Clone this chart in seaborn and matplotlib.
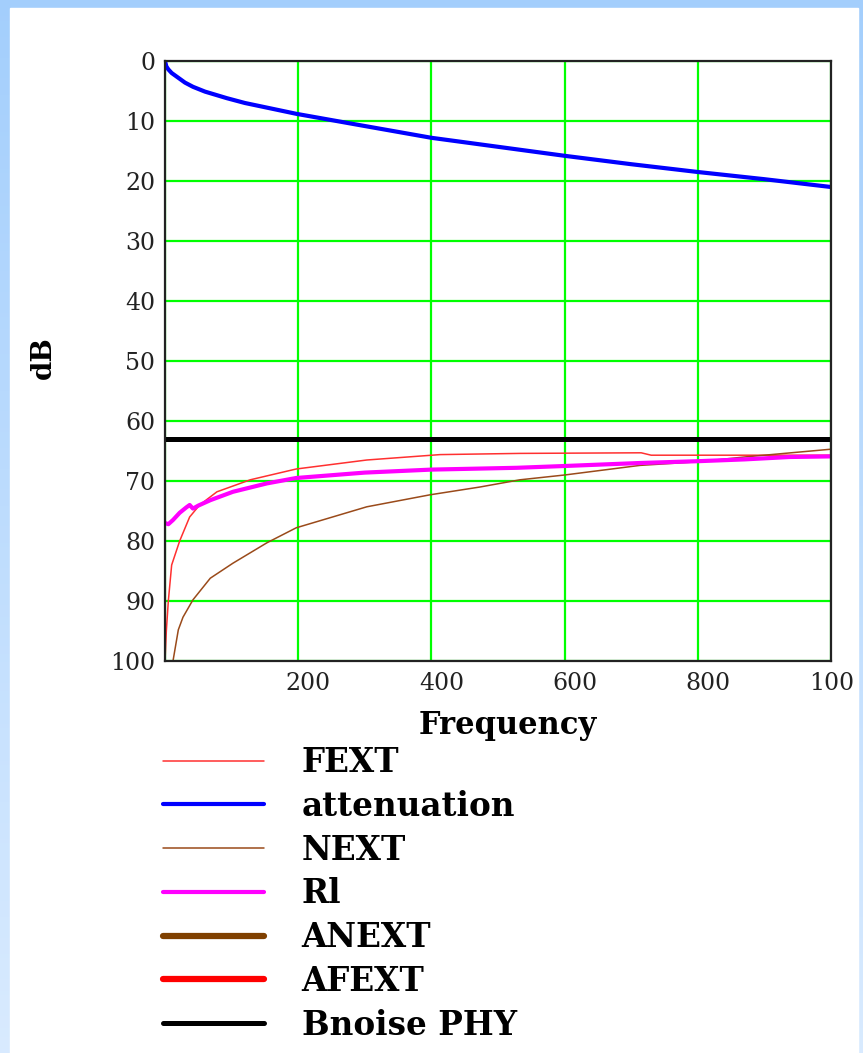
import numpy as np
import pandas as pd
import matplotlib
matplotlib.use("Agg")
import matplotlib.pyplot as plt
import seaborn as sns
from matplotlib.colors import LinearSegmentedColormap
from matplotlib.patches import Rectangle
from matplotlib.transforms import ScaledTranslation

# ---------------- data ----------------
att_f = [0, 2, 5, 10, 20, 30, 42, 60, 93, 120, 150, 197, 293, 400, 500, 600, 700, 800, 900, 1000]
att_db = [0.0, 0.9, 1.4, 2.0, 2.8, 3.6, 4.3, 5.1, 6.2, 7.0, 7.7, 8.8, 10.7, 12.8, 14.3, 15.8, 17.2, 18.5, 19.7, 21.0]

fext_f = [0, 2, 5, 10, 22, 37, 52, 78, 128, 197, 303, 413, 533, 715, 730, 1000]
fext_db = [100, 95, 90, 84, 80, 76, 74, 71.8, 69.8, 68.0, 66.5, 65.6, 65.4, 65.3, 65.7, 65.7]

next_f = [12, 20, 27, 42, 68, 102, 153, 197, 303, 398, 473, 533, 600, 713, 800, 870, 950, 1000]
next_db = [100, 94.8, 92.7, 89.8, 86.2, 83.7, 80.3, 77.8, 74.3, 72.3, 71.0, 69.8, 69.0, 67.4, 66.8, 66.0, 65.2, 64.7]

rl_f = [0, 5, 12, 22, 32, 37, 42, 50, 68, 102, 153, 197, 300, 400, 528, 600, 713, 800, 870, 938, 1000]
rl_db = [77.0, 77.2, 76.5, 75.3, 74.4, 74.0, 74.6, 74.1, 73.2, 71.8, 70.4, 69.5, 68.6, 68.1, 67.8, 67.5, 67.0, 66.7, 66.4, 66.0, 65.9]

bnoise_f = [0, 1000]
bnoise_db = [63, 63]

x_ticks = [0, 200, 400, 600, 800, 1000]
x_ticklabels = ["", "200", "400", "600", "800", "100"]
y_ticks = [0, 10, 20, 30, 40, 50, 60, 70, 80, 90, 100]
y_ticklabels = ["0", "10", "20", "30", "40", "50", "60", "70", "80", "90", "100"]
legend_order = ["FEXT", "attenuation", "NEXT", "Rl", "ANEXT", "AFEXT", "Bnoise PHY"]

# ---------------- styling ----------------
sns.set_theme(style="white")
plt.rcParams["font.family"] = ["DejaVu Serif"]

W, H = 863, 1053
fig = plt.figure(figsize=(W / 100, H / 100), dpi=100)

cmap = LinearSegmentedColormap.from_list("bgblue", [(0.64, 0.81, 0.99), (0.85, 0.92, 1.0)])
grad = np.linspace(0, 1, 256).reshape(-1, 1)

bg = fig.add_axes([0, 0, 1, 1], zorder=-10)
bg.imshow(grad, aspect="auto", cmap=cmap, extent=[0, 1, 0, 1], origin="upper")
bg.add_patch(Rectangle((10 / W, 0), (858 - 10) / W, (H - 8) / H, color="white",
                       transform=bg.transAxes))
bg.set_xlim(0, 1)
bg.set_ylim(0, 1)
bg.axis("off")

ax = fig.add_axes([165 / W, 1 - 661 / H, 666 / W, 600 / H])
ax.set_facecolor("white")

sns.lineplot(x=fext_f, y=fext_db, ax=ax, color="#ff3030", linewidth=1.1, label="FEXT")
sns.lineplot(x=att_f, y=att_db, ax=ax, color="#0000ff", linewidth=3.0, label="attenuation")
sns.lineplot(x=next_f, y=next_db, ax=ax, color="#9a4a1a", linewidth=1.1, label="NEXT")
sns.lineplot(x=rl_f, y=rl_db, ax=ax, color="#ff00ff", linewidth=3.0, label="Rl",
             solid_capstyle="round")
ax.plot([], [], color="#7f4000", linewidth=4.5, solid_capstyle="round", label="ANEXT")
ax.plot([], [], color="#ff0000", linewidth=4.5, solid_capstyle="round", label="AFEXT")
sns.lineplot(x=bnoise_f, y=bnoise_db, ax=ax, color="black", linewidth=3.6, label="Bnoise PHY")

ax.set_xlim(0, 1000)
ax.set_ylim(100, 0)
ax.set_xticks(x_ticks)
ax.set_xticklabels(x_ticklabels)
ax.set_yticks(y_ticks)
ax.set_yticklabels(y_ticklabels)
ax.set_axisbelow(True)
ax.grid(True, color="#00ff00", linewidth=1.6)
for s in ax.spines.values():
    s.set_color("#222222")
    s.set_linewidth(1.6)
ax.tick_params(axis="both", length=0, labelsize=17, colors="#222222")
ax.tick_params(axis="x", pad=8)
ax.tick_params(axis="y", pad=7)
labs = ax.get_xticklabels()
for i, lab in enumerate(labs):
    dx = 0.10 if i < len(labs) - 1 else 0.01
    lab.set_transform(lab.get_transform() + ScaledTranslation(dx, 0, fig.dpi_scale_trans))

ax.set_xlabel("Frequency", fontsize=22, fontweight="bold", color="black")
ax.xaxis.set_label_coords(0.515, -0.107)
ax.xaxis.label.set_va("center")
ax.set_ylabel("dB", fontsize=20, fontweight="bold", color="black")
ax.yaxis.set_label_coords(-0.183, 0.505)
ax.yaxis.label.set_va("center")

handles, labels = ax.get_legend_handles_labels()
hmap = dict(zip(labels, handles))
if ax.get_legend() is not None:
    ax.get_legend().remove()
leg = fig.legend([hmap[k] for k in legend_order], legend_order,
                 loc="upper left", bbox_to_anchor=(163 / W, 1 - 746 / H),
                 frameon=False, borderpad=0, borderaxespad=0,
                 handlelength=3.1, handletextpad=1.15, labelspacing=0.33,
                 prop={"family": "DejaVu Serif", "weight": "bold", "size": 23.5})
for t in leg.get_texts():
    t.set_color("black")

fig.savefig("out.png", dpi=100)
